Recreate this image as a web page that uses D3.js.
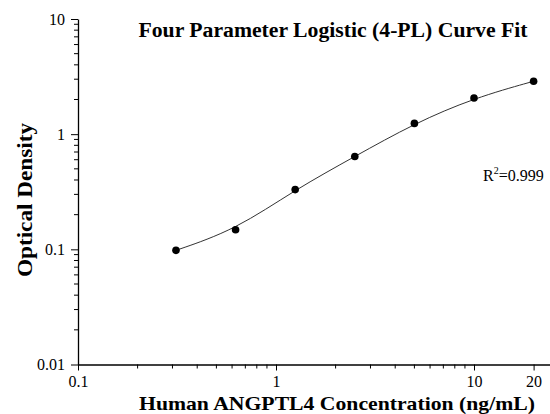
<!DOCTYPE html>
<html>
<head>
<meta charset="utf-8">
<script src="https://cdn.jsdelivr.net/npm/d3@7"></script>
<style>
  body { margin: 0; background: #fff; }
  svg { display: block; }
  text { font-family: "Liberation Serif", "Times New Roman", serif; fill: #000; }
</style>
</head>
<body>
<script>
// concentration (ng/mL) and optical density
var conc = [0.3125, 0.625, 1.25, 2.5, 5, 10, 20];
var od = [0.098, 0.148, 0.33, 0.64, 1.24, 2.06, 2.88];
var xTicks = [0.1, 1, 10, 20];
var yTicks = [0.01, 0.1, 1, 10];

var width = 550, height = 414;
var plotLeft = 78, plotTop = 19, plotBottom = 364.5;

var svg = d3.select("body").append("svg")
  .attr("width", width)
  .attr("height", height);

var x = d3.scaleLog().domain([0.1, 25]).range([plotLeft, plotLeft + 198 * Math.log10(250)]);
var y = d3.scaleLog().domain([0.01, 10]).range([plotBottom, plotTop]);

// minor ticks
var xMinor = [], yMinor = [];
[0.1, 1, 10].forEach(function (d) {
  for (var k = 2; k <= 9; k++) if (d * k <= 25 && d * k != 20) xMinor.push(d * k);
});
[0.01, 0.1, 1].forEach(function (d) {
  for (var k = 2; k <= 9; k++) yMinor.push(d * k);
});

var fmt = function (d) { return String(+d.toPrecision(3)); };

var xAxis = svg.append("g")
  .attr("transform", "translate(0," + plotBottom + ")")
  .call(d3.axisBottom(x).tickValues(xTicks).tickFormat(fmt).tickSize(6).tickPadding(5).tickSizeOuter(0));
xAxis.append("g").selectAll("line")
  .data(xMinor)
  .enter().append("line")
  .attr("x1", function (d) { return x(d); })
  .attr("x2", function (d) { return x(d); })
  .attr("y1", 0).attr("y2", 4)
  .attr("stroke", "#000");

var yAxis = svg.append("g")
  .attr("transform", "translate(" + plotLeft + ",0)")
  .call(d3.axisLeft(y).tickValues(yTicks).tickFormat(fmt).tickSize(7).tickPadding(6).tickSizeOuter(0));
yAxis.append("g").selectAll("line")
  .data(yMinor)
  .enter().append("line")
  .attr("y1", function (d) { return y(d); })
  .attr("y2", function (d) { return y(d); })
  .attr("x1", 0).attr("x2", -4)
  .attr("stroke", "#000");

svg.selectAll(".domain").attr("stroke", "#000").attr("stroke-width", 1.3);
svg.selectAll(".tick line").attr("stroke", "#000");
svg.selectAll(".tick text")
  .style("font-family", "Liberation Serif, serif")
  .style("font-size", "16px")
  .attr("fill", "#000");

// fitted curve, smoothed through the points in log space
var pts = conc.map(function (c, i) { return [x(c), y(od[i])]; });
svg.append("path")
  .datum(pts)
  .attr("fill", "none")
  .attr("stroke", "#333")
  .attr("stroke-width", 1)
  .attr("d", d3.line().curve(d3.curveBasis));

svg.append("g").selectAll("circle")
  .data(conc)
  .enter().append("circle")
  .attr("cx", function (d) { return x(d); })
  .attr("cy", function (d, i) { return y(od[i]); })
  .attr("r", 3.8)
  .attr("fill", "#000");

svg.append("text")
  .attr("x", 333).attr("y", 37)
  .attr("text-anchor", "middle")
  .attr("textLength", 389).attr("lengthAdjust", "spacingAndGlyphs")
  .style("font-size", "20px").style("font-weight", "bold")
  .text("Four Parameter Logistic (4-PL) Curve Fit");

svg.append("text")
  .attr("x", 337).attr("y", 410)
  .attr("text-anchor", "middle")
  .attr("textLength", 396).attr("lengthAdjust", "spacingAndGlyphs")
  .style("font-size", "19px").style("font-weight", "bold")
  .text("Human ANGPTL4 Concentration (ng/mL)");

svg.append("text")
  .attr("transform", "translate(32,200) rotate(-90)")
  .attr("text-anchor", "middle")
  .attr("textLength", 154).attr("lengthAdjust", "spacingAndGlyphs")
  .style("font-size", "22px").style("font-weight", "bold")
  .text("Optical Density");

var r2 = svg.append("text")
  .attr("x", 483).attr("y", 181)
  .style("font-size", "16px");
r2.append("tspan").text("R");
r2.append("tspan").attr("dy", -7).style("font-size", "10px").text("2");
r2.append("tspan").attr("dy", 7).text("=0.999");
</script>
</body>
</html>
